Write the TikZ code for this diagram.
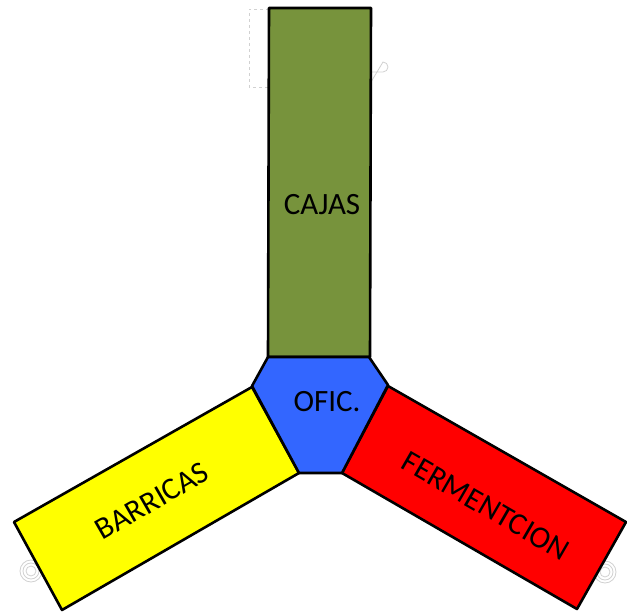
\documentclass[tikz,border=0pt]{standalone}
\usepackage{fontspec}
\setmainfont{Carlito}
\begin{document}
\begin{tikzpicture}[x=1pt,y=-1pt,
  zone/.style={draw=black,line width=2.6pt,line join=round},
  lbl/.style={font=\fontsize{31}{34}\selectfont,text=black,inner sep=0pt},
  ghost/.style={draw=black!18,line width=0.8pt}]
\useasboundingbox (0,0) rectangle (627,612);
% faint artefacts
\draw[ghost,dashed] (269,9) -- (249,9) -- (249,87) -- (269,87);
\draw[ghost] (371,72) -- (383,72) arc[start angle=90,end angle=-90,radius=5] -- (371,82);
\foreach \c in {(31,571),(605,572)}{
  \draw[ghost] \c circle[radius=11];
  \draw[ghost] \c circle[radius=8];
  \draw[ghost] \c circle[radius=5];
}
% zones
\draw[zone,fill={rgb,255:red,119;green,147;blue,60}] (269,8) -- (371,8) -- (370,357) -- (268,357) -- cycle;
\draw[zone,fill={rgb,255:red,255;green,255;blue,0}] (252,387) -- (299,473) -- (62,610) -- (14,522) -- cycle;
\draw[zone,fill={rgb,255:red,255;green,0;blue,0}] (388,386) -- (342,473) -- (577,609) -- (626,522) -- cycle;
\draw[zone,fill={rgb,255:red,51;green,102;blue,255}] (268,357) -- (369,357) -- (388,385) -- (342,473) -- (299,473) -- (252,386) -- cycle;
% labels
\node[lbl] (cajas) at (322,205) {CAJAS};
\node[lbl] (ofic) at (327,402) {OFIC.};
\node[lbl,rotate=30] (barricas) at (152,501) {BARRICAS};
\node[lbl,rotate=-30] (ferm) at (486,506) {FERMENTCION};
\end{tikzpicture}
\end{document}
